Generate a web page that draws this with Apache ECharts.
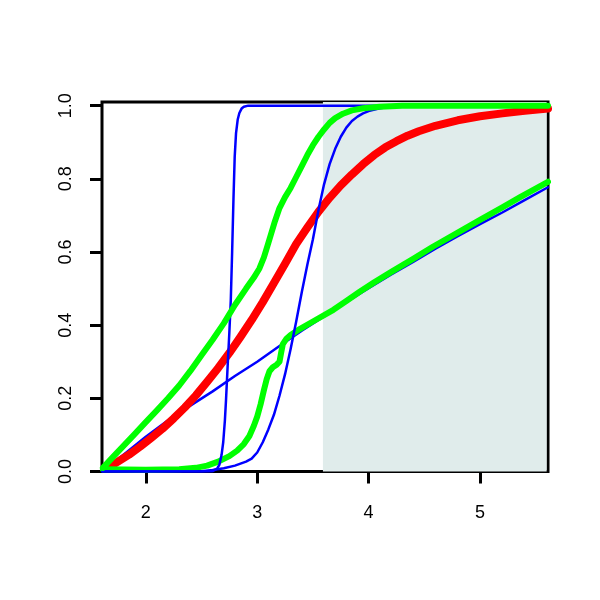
<!DOCTYPE html>
<html>
<head>
<meta charset="utf-8">
<script src="https://cdn.jsdelivr.net/npm/echarts@6/dist/echarts.min.js"></script>
<style>html,body{margin:0;padding:0;background:#fff}#c{width:600px;height:600px}</style>
</head>
<body>
<div id="c"></div>
<script>
const xTicks = [2, 3, 4, 5];
const yTicks = [0, 0.2, 0.4, 0.6, 0.8, 1.0];
const shadeRange = [3.59, 5.598];

const blueLinear = [[1.64,0.008],[1.8,0.046],[2.0,0.095],[2.2,0.14],[2.4,0.18],[2.6,0.219],[2.8,0.261],[3.0,0.30],[3.2,0.343],[3.4,0.385],[3.6,0.424],[3.8,0.463],[4.0,0.501],[4.2,0.538],[4.4,0.573],[4.6,0.609],[4.8,0.643],[5.0,0.676],[5.2,0.708],[5.4,0.742],[5.61,0.777]];
const blueSteep = [[1.61,0],[2.55,0],[2.6,0.001],[2.64,0.008],[2.66,0.018],[2.68,0.045],[2.695,0.08],[2.71,0.14],[2.72,0.195],[2.735,0.29],[2.75,0.38],[2.763,0.469],[2.775,0.6],[2.787,0.745],[2.798,0.86],[2.81,0.925],[2.825,0.962],[2.84,0.98],[2.86,0.992],[2.88,0.997],[2.92,1.0],[5.61,1.0]];
const blueMid = [[1.61,0],[2.5,0.001],[2.6,0.004],[2.7,0.009],[2.8,0.016],[2.9,0.027],[2.95,0.035],[3.0,0.052],[3.05,0.08],[3.1,0.115],[3.15,0.155],[3.2,0.207],[3.25,0.266],[3.3,0.335],[3.35,0.41],[3.4,0.49],[3.45,0.565],[3.5,0.635],[3.55,0.715],[3.6,0.785],[3.65,0.84],[3.7,0.882],[3.75,0.915],[3.8,0.94],[3.85,0.958],[3.9,0.97],[3.95,0.979],[4.0,0.985],[4.1,0.993],[4.2,0.997],[4.35,1.0],[5.61,1.0]];
const redCurve = [[1.66,0.01],[1.75,0.027],[1.85,0.046],[1.95,0.068],[2.05,0.092],[2.15,0.117],[2.25,0.145],[2.35,0.175],[2.45,0.208],[2.55,0.245],[2.65,0.283],[2.75,0.324],[2.85,0.368],[2.95,0.414],[3.05,0.463],[3.15,0.515],[3.25,0.568],[3.35,0.622],[3.45,0.667],[3.55,0.71],[3.65,0.748],[3.75,0.782],[3.85,0.812],[3.95,0.84],[4.05,0.865],[4.15,0.886],[4.25,0.903],[4.35,0.918],[4.45,0.93],[4.6,0.945],[4.8,0.96],[5.0,0.971],[5.2,0.979],[5.4,0.986],[5.61,0.992]];
const greenUpper = [[1.615,0.01],[1.7,0.038],[1.8,0.07],[1.9,0.102],[2.0,0.135],[2.1,0.167],[2.2,0.2],[2.3,0.235],[2.4,0.275],[2.5,0.318],[2.6,0.36],[2.7,0.405],[2.8,0.455],[2.9,0.5],[2.97,0.53],[3.02,0.555],[3.06,0.585],[3.09,0.615],[3.12,0.645],[3.16,0.685],[3.2,0.72],[3.25,0.75],[3.3,0.775],[3.35,0.805],[3.4,0.835],[3.45,0.865],[3.5,0.892],[3.55,0.915],[3.6,0.935],[3.65,0.953],[3.7,0.966],[3.77,0.978],[3.85,0.987],[3.95,0.993],[4.1,0.997],[4.3,1.0],[5.61,1.0]];
const greenLower = [[1.615,0.006],[2.0,0.005],[2.3,0.006],[2.45,0.01],[2.55,0.016],[2.65,0.027],[2.75,0.042],[2.82,0.057],[2.88,0.075],[2.93,0.097],[2.97,0.125],[3.0,0.15],[3.03,0.183],[3.06,0.222],[3.085,0.252],[3.11,0.274],[3.14,0.285],[3.175,0.292],[3.2,0.3],[3.215,0.325],[3.23,0.348],[3.26,0.362],[3.3,0.373],[3.385,0.39],[3.5,0.41],[3.684,0.442],[3.8,0.466],[3.923,0.492],[4.05,0.517],[4.2,0.545],[4.4,0.581],[4.58,0.615],[4.8,0.653],[5.0,0.688],[5.2,0.722],[5.36,0.75],[5.61,0.792]];

const chart = echarts.init(document.getElementById('c'));
const font = 'Liberation Sans, Arial, Helvetica, sans-serif';
function line(data, color, width) {
  return { type: 'line', data: data, showSymbol: false, symbol: 'none', smooth: false,
    lineStyle: { color: color, width: width, cap: 'round', join: 'round' }, silent: true, animation: false, clip: true };
}
chart.setOption({
  animation: false,
  grid: { left: 102, right: 52, top: 102, bottom: 128.5, show: true, borderColor: '#000', borderWidth: 3, backgroundColor: 'transparent' },
  xAxis: {
    type: 'value', min: 1.607, max: 5.61,
    splitLine: { show: false }, axisLine: { show: false },
    axisTick: { show: true, length: 12, lineStyle: { color: '#000', width: 3 }, customValues: xTicks },
    axisLabel: { customValues: xTicks, margin: 33, fontSize: 18, color: '#000', fontFamily: font, formatter: v => String(v) }
  },
  yAxis: {
    type: 'value', min: 0, max: 1.01,
    splitLine: { show: false }, axisLine: { show: false },
    axisTick: { show: true, length: 12, lineStyle: { color: '#000', width: 3 }, customValues: yTicks },
    axisLabel: { customValues: yTicks, rotate: 90, margin: 27, fontSize: 18, color: '#000', fontFamily: font, formatter: v => v.toFixed(1) }
  },
  series: [
    { type: 'line', data: [], silent: true,
      markArea: { silent: true, itemStyle: { color: '#e0eceb' },
        data: [[{ xAxis: shadeRange[0], yAxis: 0 }, { xAxis: shadeRange[1], yAxis: 1.01 }]] } },
    line(blueLinear, '#0000ff', 2.5),
    line(redCurve, '#ff0000', 8),
    line(greenLower, '#00ff00', 6),
    line(blueSteep, '#0000ff', 2.5),
    line(blueMid, '#0000ff', 2.5),
    line(greenUpper, '#00ff00', 6)
  ]
});
</script>
</body>
</html>
